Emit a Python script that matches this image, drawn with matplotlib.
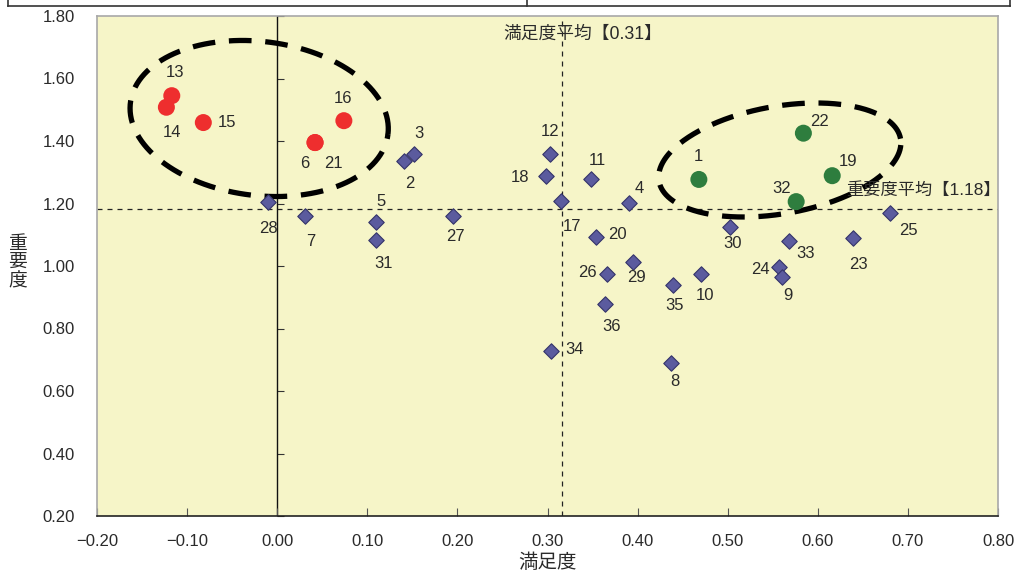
import numpy as np
import matplotlib
matplotlib.use("Agg")
import matplotlib.pyplot as plt
from matplotlib.lines import Line2D

plt.rcParams['font.family'] = ['Liberation Sans', 'Noto Sans CJK JP', 'DejaVu Sans']

# ---- data ----
red_ids = ["13", "14", "15", "16", "6", "21"]
red_x = [-0.117, -0.123, -0.082, 0.074, 0.042, 0.042]
red_y = [1.545, 1.508, 1.459, 1.465, 1.395, 1.395]

green_ids = ["1", "22", "19", "32"]
green_x = [0.468, 0.584, 0.616, 0.576]
green_y = [1.277, 1.425, 1.289, 1.206]

blue_ids = ["28", "7", "5", "31", "27", "2", "3", "12", "18", "17", "11", "4",
            "20", "30", "26", "29", "35", "10", "36", "34", "8", "24", "9", "33",
            "23", "25"]
blue_x = [-0.010, 0.031, 0.110, 0.110, 0.195, 0.141, 0.152, 0.303, 0.298, 0.315,
          0.348, 0.391, 0.354, 0.502, 0.366, 0.395, 0.439, 0.470, 0.364, 0.304,
          0.437, 0.557, 0.560, 0.568, 0.639, 0.680]
blue_y = [1.206, 1.161, 1.140, 1.083, 1.160, 1.336, 1.357, 1.358, 1.288, 1.208,
          1.277, 1.203, 1.094, 1.126, 0.975, 1.012, 0.939, 0.975, 0.878, 0.728,
          0.691, 0.998, 0.966, 1.081, 1.089, 1.171]

mean_x = 0.3156   # 満足度平均 (label 0.31)
mean_y = 1.181    # 重要度平均 (label 1.18)
mean_x_label = "満足度平均【0.31】"
mean_y_label = "重要度平均【1.18】"

x_ticks = [-0.20, -0.10, 0.00, 0.10, 0.20, 0.30, 0.40, 0.50, 0.60, 0.70, 0.80]
y_ticks = [0.20, 0.40, 0.60, 0.80, 1.00, 1.20, 1.40, 1.60, 1.80]

# label offsets in pixels (dx right, dy down)
label_off = {
    "13": (3, -23), "14": (6, 25), "15": (24, 0), "16": (-1, -22),
    "6": (-10, 21), "21": (18, 21),
    "1": (0, -23), "22": (16, -12), "19": (16, -14), "32": (-15, -13),
    "28": (0, 27), "7": (6, 26), "5": (5, -21), "31": (7, 23), "27": (3, 20),
    "2": (6, 23), "3": (5, -21), "12": (0, -23), "18": (-26, 2), "17": (11, 25),
    "11": (7, -19), "4": (10, -14), "20": (21, -2), "30": (3, 17),
    "26": (-20, -1), "29": (3, 15), "35": (2, 20), "10": (4, 22),
    "36": (6, 22), "34": (23, -1), "8": (4, 19), "24": (-19, 3), "9": (6, 19),
    "33": (17, 13), "23": (5, 26), "25": (19, 18),
}

W, H = 1019, 572
fig = plt.figure(figsize=(W / 100, H / 100), dpi=100)
L, R, T, B = 97, 998, 16, 516
ax = fig.add_axes([L / W, 1 - B / H, (R - L) / W, (B - T) / H])
ax.set_facecolor("#F6F5C8")
ax.set_xlim(-0.2, 0.8)
ax.set_ylim(0.2, 1.8)

for s in ["left", "top", "right"]:
    ax.spines[s].set_color("#A8A8A8")
    ax.spines[s].set_linewidth(1.2)
ax.spines["bottom"].set_color("#222222")
ax.spines["bottom"].set_linewidth(1.2)

ax.set_xticks(x_ticks)
ax.set_xticklabels([f"{v:.2f}".replace("-", "\u2212") for v in x_ticks])
ax.set_yticks(y_ticks)
ax.set_yticklabels([f"{v:.2f}" for v in y_ticks])
ax.tick_params(axis="x", direction="in", length=6, width=0.8, color="#555555",
               labelsize=12, labelcolor="#2a2a2a", pad=13)
ax.tick_params(axis="y", length=0, labelsize=12, labelcolor="#2a2a2a", pad=16)

# y axis crossing at x = 0
ax.axvline(0, color="#111111", lw=1.0, zorder=1)
sec = ax.secondary_yaxis(0.2)
sec.set_yticks(y_ticks)
sec.set_yticklabels([])
sec.spines["left"].set_visible(False)
sec.tick_params(axis="y", direction="out", length=5, width=0.8, color="#333333",
                left=False, right=True)
sec.tick_params(axis="y", which="both", left=False)
sec.yaxis.set_ticks_position("right")

# mean lines
ax.axhline(mean_y, color="#222222", lw=0.9, ls=(0, (4, 4)), zorder=1)
ax.axvline(mean_x, color="#222222", lw=0.9, ls=(0, (4, 4)), zorder=1)

ax.text(0.3395, 1.742, mean_x_label, ha="center", va="center", fontsize=12.8,
        color="#2a2a2a")
ax.text(0.8035, 1.245, mean_y_label, ha="right", va="center", fontsize=12.4,
        color="#2a2a2a")

# points
ax.scatter(blue_x, blue_y, marker="D", s=62, color="#5B5B9E", edgecolor="#34346A",
           linewidth=0.8, zorder=3)
ax.scatter(red_x, red_y, marker="o", s=150, color="#EE2E2E", edgecolor="none",
           zorder=3)
ax.scatter(green_x, green_y, marker="o", s=150, color="#2E7D3E", edgecolor="none",
           zorder=3)

px_x = 0.1 / 90.0     # data per pixel (x)
px_y = 0.2 / 62.5     # data per pixel (y)

for ids, xs, ys in [(red_ids, red_x, red_y), (green_ids, green_x, green_y),
                    (blue_ids, blue_x, blue_y)]:
    for i, x, y in zip(ids, xs, ys):
        dx, dy = label_off[i]
        ax.text(x + dx * px_x, y - dy * px_y, i, ha="center", va="center",
                fontsize=12, color="#2a2a2a", zorder=4)

# dashed ellipses (drawn in pixel space, converted to data)
def ellipse(cx_px, cy_px, a, b, ang_deg):
    t = np.linspace(0, 2 * np.pi, 400)
    th = np.deg2rad(ang_deg)
    ex = a * np.cos(t) * np.cos(th) - b * np.sin(t) * np.sin(th)
    ey = a * np.cos(t) * np.sin(th) + b * np.sin(t) * np.cos(th)
    X = -0.2 + (cx_px - L + ex) * px_x
    Y = 1.8 - (cy_px - T - ey) * px_y
    ax.plot(X, Y, color="black", lw=3.8, ls=(0, (4.3, 2.6)),
            solid_capstyle="butt", dash_capstyle="butt", zorder=2)

ellipse(259, 118.5, 129.6, 77, -7)
ellipse(779, 160, 122.5, 53.7, 10)

ax.set_xlabel("満足度", fontsize=14, color="#2a2a2a", labelpad=3)
fig.text(18 / W, 1 - 263 / H, "重\n要\n度", ha="center", va="center",
         fontsize=13.5, color="#2a2a2a", linespacing=1.1)

# cut-off table border at the top
lc = "#333333"
fig.add_artist(Line2D([8 / W, 1010 / W], [1 - 5.5 / H, 1 - 5.5 / H], color=lc, lw=1.2))
fig.add_artist(Line2D([8 / W, 8 / W], [1 - 5.5 / H, 1.0], color=lc, lw=1.2))
fig.add_artist(Line2D([1010 / W, 1010 / W], [1 - 5.5 / H, 1.0], color=lc, lw=1.2))
fig.add_artist(Line2D([527 / W, 527 / W], [1 - 5.5 / H, 1.0], color=lc, lw=1.2))

fig.savefig("out.png", dpi=100, facecolor="white")
